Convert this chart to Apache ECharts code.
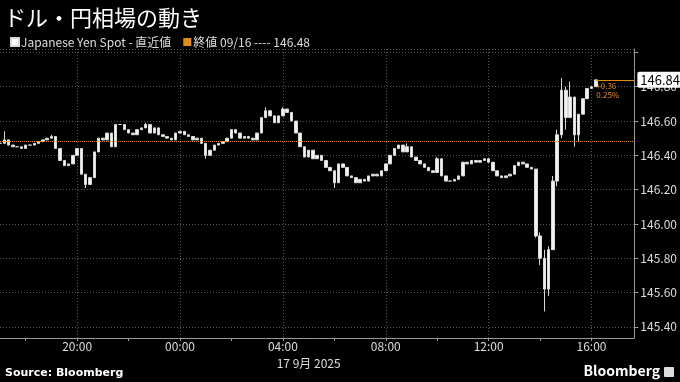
<!DOCTYPE html>
<html><head><meta charset="utf-8">
<script src="https://cdn.jsdelivr.net/npm/echarts@6/dist/echarts.min.js"></script>
<style>html,body{margin:0;background:#000}#c{width:680px;height:382px}</style>
</head><body><div id="c"></div>
<script>
// 10-minute slots from 17:00 (16 Sep) to 17:40 (17 Sep)
const startHour = 17, slotMin = 10, slotCount = 149;
const times = [];
for (let i = 0; i < slotCount; i++) {
  const m = (startHour * 60 + i * slotMin) % 1440;
  times.push(String(Math.floor(m / 60)).padStart(2, '0') + ':' + String(m % 60).padStart(2, '0'));
}
const closes = [
146.47,146.49,146.46,146.45,146.45,146.44,146.46,146.46,146.47,146.48,
146.49,146.50,146.51,146.44,146.37,146.34,146.35,146.40,146.44,146.29,
146.23,146.27,146.42,146.50,146.49,146.53,146.45,146.58,146.58,146.55,
146.53,146.52,146.55,146.56,146.58,146.53,146.56,146.52,146.51,146.50,
146.49,146.53,146.54,146.52,146.51,146.49,146.50,146.47,146.40,146.43,
146.46,146.47,146.48,146.50,146.55,146.53,146.50,146.51,146.50,146.49,
146.53,146.62,146.66,146.63,146.59,146.63,146.67,146.65,146.60,146.53,
146.45,146.39,146.43,146.38,146.40,146.37,146.33,146.31,146.24,146.35,
146.33,146.28,146.27,146.24,146.26,146.25,146.28,146.29,146.28,146.31,
146.35,146.40,146.44,146.46,146.42,146.45,146.39,146.37,146.35,146.33,
146.31,146.30,146.38,146.28,146.25,146.25,146.26,146.28,146.36,146.35,
146.37,146.36,146.37,146.38,146.36,146.31,146.28,146.27,146.28,146.29,
146.34,146.36,146.35,146.33,146.32,145.93,145.80,145.62,145.85,146.25,
146.52,146.78,146.62,146.74,146.52,146.64,146.73,146.79,146.80,146.84
];
const wickHigh = [[1,146.54],[12,146.52],[34,146.59],[62,146.68],[66,146.68],[95,146.47],[102,146.39],
  [125,146.31],[126,145.95],[127,145.85],[128,145.87],[129,146.28],[130,146.55],[131,146.85],[132,146.80],[133,146.83],[134,146.74]];
const wickLow = [[20,146.21],[48,146.38],[78,146.21],[125,145.92],[126,145.76],[127,145.49],[128,145.58],
  [130,146.22],[131,146.50],[132,146.55],[134,146.45],[135,146.48]];
const prevClose = 146.48;
const lastPrice = 146.84;
const change = '+0.36', changePct = '0.25%';
const seriesName = 'Japanese Yen Spot - 直近値';
const prevName = '終値 09/16 ---- 146.48';

const hi = {}, lo = {};
wickHigh.forEach(([i, v]) => hi[i] = v);
wickLow.forEach(([i, v]) => lo[i] = v);
const ohlc = closes.map((c, i) => {
  const o = i ? closes[i - 1] : c;
  const h = hi[i] !== undefined ? hi[i] : Math.max(o, c);
  const l = lo[i] !== undefined ? lo[i] : Math.min(o, c);
  return [o, c, l, h];
});
const lastIdx = closes.length - 1;
const ORANGE = '#e08a1e';
const font = '"Noto Sans CJK JP", "Noto Sans", sans-serif';

const chart = echarts.init(document.getElementById('c'), null, {renderer: 'canvas'});
chart.setOption({
  backgroundColor: '#000',
  animation: false,
  textStyle: {fontFamily: font},
  title: {text: 'ドル・円相場の動き', left: -1, top: 2,
    textStyle: {color: '#fff', fontSize: 22, fontWeight: 'normal', fontFamily: font}},
  legend: {left: 5, top: 31, itemWidth: 8, itemHeight: 8, itemGap: 12, icon: 'rect',
    textStyle: {color: '#ddd', fontSize: 12, fontFamily: font, padding: [0, 0, 0, -3]},
    data: [{name: seriesName, itemStyle: {color: '#fff'}}, {name: prevName, itemStyle: {color: ORANGE}}]},
  grid: {left: 0, right: 45, top: 49, bottom: 44},
  xAxis: {
    type: 'category', data: times, boundaryGap: false,
    axisLine: {lineStyle: {color: '#999', width: 1}},
    axisTick: {interval: (i) => i % 12 === 6, length: 3, lineStyle: {color: '#999'}},
    axisLabel: {interval: (i) => i % 24 === 18, color: '#ddd', fontSize: 12, margin: 2, fontFamily: font},
    splitLine: {show: true, interval: (i) => i % 24 === 18, lineStyle: {color: '#555', type: [1, 2]}},
    name: '17 9月 2025', nameLocation: 'middle', nameGap: 19,
    nameTextStyle: {color: '#ddd', fontSize: 12, padding: [0, 17, 0, 0], fontFamily: font}
  },
  yAxis: {
    type: 'value', position: 'right', min: 145.335, max: 147.02, splitNumber: 8,
    minInterval: 0.2, maxInterval: 0.2, scale: true,
    axisLine: {show: true, lineStyle: {color: '#999'}},
    axisTick: {show: true, length: 4, lineStyle: {color: '#999'}},
    axisLabel: {color: '#ddd', fontSize: 12, margin: 6, showMinLabel: false, showMaxLabel: false,
      formatter: (v) => v > 146.9 ? '' : v.toFixed(2), fontFamily: font},
    splitLine: {show: true, lineStyle: {color: '#555', type: [1, 2]}}
  },
  series: [
    {
      name: seriesName, type: 'candlestick', data: ohlc, barWidth: 3,
      itemStyle: {color: '#f2f2f2', color0: '#f2f2f2', borderColor: '#d8d8d8', borderColor0: '#d8d8d8', borderWidth: 1},
      markLine: {
        silent: true, symbol: ['none', 'none'],
        data: [[
          {coord: [times[lastIdx], lastPrice]},
          {coord: [times[slotCount - 1], lastPrice]}
        ]],
        lineStyle: {color: ORANGE, type: 'solid', width: 1},
        label: {show: true, position: 'end', formatter: lastPrice.toFixed(2), distance: 3,
          backgroundColor: '#fff', color: '#000', fontSize: 13, padding: [2, 3, 1, 3], borderRadius: 2, fontFamily: font}
      },
      markPoint: {
        silent: true, symbol: 'circle', symbolSize: 1, itemStyle: {color: 'rgba(0,0,0,0)'},
        data: [{coord: [times[lastIdx], lastPrice]}],
        label: {show: true, position: [1, 2], formatter: change + '\n' + changePct,
          color: ORANGE, fontSize: 8, lineHeight: 9, align: 'left', verticalAlign: 'top', fontFamily: font}
      }
    },
    {
      name: prevName, type: 'line', data: [], itemStyle: {color: ORANGE},
      markLine: {
        silent: true, symbol: ['none', 'none'], label: {show: false},
        data: [{yAxis: prevClose}],
        lineStyle: {color: ORANGE, type: [1, 1], width: 1}
      }
    }
  ],
  graphic: [
    {type: 'text', left: 5, top: 368, style: {text: 'Source: Bloomberg', fill: '#fff', fontSize: 11, fontWeight: 'bold', fontFamily: '"DejaVu Sans", sans-serif'}},
    {type: 'text', right: 20, top: 364, style: {text: 'Bloomberg', fill: '#fff', fontSize: 14, fontWeight: 'bold', fontFamily: font}},
    {type: 'rect', right: 6, top: 367, shape: {width: 10, height: 10, r: 1}, style: {fill: '#ddd'}}
  ]
});
</script></body></html>
